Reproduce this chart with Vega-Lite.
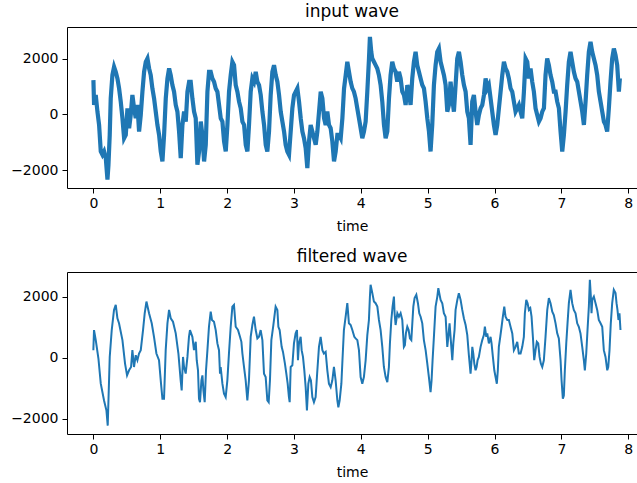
{
"$schema": "https://vega.github.io/schema/vega-lite/v6.json",
"padding": {"left": 10, "top": 3, "right": 0, "bottom": 0},
"background": "white",
"spacing": 15,
"config": {
  "view": {"stroke": null},
  "font": "DejaVu Sans",
  "axis": {"grid": false, "domainColor": "black", "domainWidth": 1, "tickColor": "black", "tickWidth": 1, "labelColor": "black", "titleColor": "black", "labelFont": "DejaVu Sans", "titleFont": "DejaVu Sans", "labelFontSize": 14, "titleFontSize": 14, "titleFontWeight": "normal", "tickSize": 5},
  "axisX": {"labelPadding": 3, "titlePadding": 9},
  "axisY": {"labelPadding": 4},
  "title": {"font": "DejaVu Sans", "fontSize": 17, "fontWeight": "normal", "color": "black", "offset": 6}
},
"datasets": {
"input": [
{"t":0.001,"v":1236},{"t":0.011,"v":341},{"t":0.036,"v":699},{"t":0.061,"v":102},{"t":0.086,"v":-375},{"t":0.111,"v":-1329},{"t":0.136,"v":-1449},{"t":0.161,"v":-1329},{"t":0.186,"v":-1568},{"t":0.211,"v":-2343},{"t":0.226,"v":-1807},{"t":0.245,"v":-733},{"t":0.26,"v":579},{"t":0.285,"v":1414},{"t":0.31,"v":1713},{"t":0.335,"v":1534},{"t":0.36,"v":1295},{"t":0.385,"v":937},{"t":0.41,"v":460},{"t":0.435,"v":-136},{"t":0.46,"v":-852},{"t":0.485,"v":-733},{"t":0.51,"v":222},{"t":0.535,"v":-494},{"t":0.559,"v":-17},{"t":0.584,"v":699},{"t":0.609,"v":222},{"t":0.634,"v":-136},{"t":0.659,"v":341},{"t":0.684,"v":-614},{"t":0.709,"v":-17},{"t":0.734,"v":818},{"t":0.759,"v":1534},{"t":0.784,"v":1892},{"t":0.809,"v":2011},{"t":0.834,"v":1653},{"t":0.858,"v":1414},{"t":0.883,"v":937},{"t":0.908,"v":579},{"t":0.933,"v":102},{"t":0.958,"v":-375},{"t":0.983,"v":-733},{"t":1.008,"v":-1329},{"t":1.033,"v":-1687},{"t":1.058,"v":-733},{"t":1.083,"v":579},{"t":1.108,"v":1295},{"t":1.133,"v":1653},{"t":1.157,"v":1414},{"t":1.182,"v":1057},{"t":1.207,"v":818},{"t":1.232,"v":341},{"t":1.257,"v":102},{"t":1.282,"v":-614},{"t":1.307,"v":-1568},{"t":1.332,"v":-375},{"t":1.357,"v":102},{"t":1.382,"v":-256},{"t":1.407,"v":818},{"t":1.432,"v":1176},{"t":1.456,"v":1176},{"t":1.481,"v":579},{"t":1.506,"v":102},{"t":1.531,"v":-136},{"t":1.556,"v":-1807},{"t":1.581,"v":-1329},{"t":1.606,"v":-256},{"t":1.631,"v":-733},{"t":1.656,"v":-1687},{"t":1.681,"v":-1091},{"t":1.706,"v":818},{"t":1.73,"v":1534},{"t":1.755,"v":1534},{"t":1.78,"v":1295},{"t":1.805,"v":1176},{"t":1.83,"v":937},{"t":1.855,"v":818},{"t":1.88,"v":341},{"t":1.905,"v":-136},{"t":1.93,"v":-256},{"t":1.955,"v":-972},{"t":1.98,"v":-1329},{"t":2.005,"v":-375},{"t":2.029,"v":818},{"t":2.054,"v":1414},{"t":2.079,"v":1892},{"t":2.104,"v":1772},{"t":2.129,"v":1057},{"t":2.154,"v":818},{"t":2.179,"v":460},{"t":2.204,"v":222},{"t":2.229,"v":-256},{"t":2.254,"v":-375},{"t":2.279,"v":-1091},{"t":2.304,"v":-1329},{"t":2.328,"v":-375},{"t":2.353,"v":818},{"t":2.378,"v":1295},{"t":2.403,"v":1176},{"t":2.428,"v":1534},{"t":2.453,"v":1176},{"t":2.478,"v":1057},{"t":2.503,"v":699},{"t":2.528,"v":102},{"t":2.553,"v":-375},{"t":2.578,"v":-1091},{"t":2.602,"v":-1329},{"t":2.627,"v":-614},{"t":2.652,"v":699},{"t":2.677,"v":1534},{"t":2.702,"v":1772},{"t":2.727,"v":1414},{"t":2.752,"v":1176},{"t":2.777,"v":699},{"t":2.802,"v":102},{"t":2.827,"v":-256},{"t":2.852,"v":-614},{"t":2.876,"v":-1091},{"t":2.901,"v":-1329},{"t":2.926,"v":-1449},{"t":2.951,"v":-614},{"t":2.976,"v":222},{"t":3.001,"v":699},{"t":3.026,"v":818},{"t":3.051,"v":937},{"t":3.076,"v":460},{"t":3.101,"v":-136},{"t":3.126,"v":-614},{"t":3.15,"v":-852},{"t":3.175,"v":-1210},{"t":3.2,"v":-1926},{"t":3.225,"v":-972},{"t":3.25,"v":-375},{"t":3.275,"v":-614},{"t":3.3,"v":-852},{"t":3.325,"v":-1091},{"t":3.35,"v":-614},{"t":3.375,"v":102},{"t":3.4,"v":818},{"t":3.425,"v":579},{"t":3.45,"v":-136},{"t":3.474,"v":-375},{"t":3.499,"v":102},{"t":3.524,"v":-375},{"t":3.549,"v":-494},{"t":3.574,"v":-972},{"t":3.599,"v":-1687},{"t":3.624,"v":-1329},{"t":3.649,"v":-733},{"t":3.674,"v":-733},{"t":3.699,"v":-852},{"t":3.724,"v":-136},{"t":3.749,"v":937},{"t":3.774,"v":1414},{"t":3.798,"v":1892},{"t":3.823,"v":1534},{"t":3.848,"v":1176},{"t":3.873,"v":937},{"t":3.897,"v":818},{"t":3.922,"v":579},{"t":3.947,"v":222},{"t":3.972,"v":-136},{"t":3.997,"v":-494},{"t":4.022,"v":-852},{"t":4.047,"v":-614},{"t":4.072,"v":-256},{"t":4.097,"v":818},{"t":4.122,"v":2011},{"t":4.136,"v":2787},{"t":4.156,"v":2250},{"t":4.171,"v":2011},{"t":4.196,"v":1892},{"t":4.221,"v":1772},{"t":4.246,"v":1653},{"t":4.271,"v":1414},{"t":4.296,"v":1057},{"t":4.321,"v":460},{"t":4.346,"v":-375},{"t":4.371,"v":-852},{"t":4.396,"v":-614},{"t":4.421,"v":579},{"t":4.445,"v":1414},{"t":4.47,"v":1892},{"t":4.495,"v":1653},{"t":4.52,"v":1534},{"t":4.545,"v":1176},{"t":4.57,"v":1534},{"t":4.595,"v":1295},{"t":4.62,"v":818},{"t":4.645,"v":699},{"t":4.67,"v":341},{"t":4.695,"v":1057},{"t":4.72,"v":818},{"t":4.744,"v":341},{"t":4.769,"v":1295},{"t":4.794,"v":1892},{"t":4.819,"v":2250},{"t":4.844,"v":1772},{"t":4.869,"v":1534},{"t":4.894,"v":1295},{"t":4.919,"v":1057},{"t":4.944,"v":937},{"t":4.969,"v":460},{"t":4.994,"v":-136},{"t":5.019,"v":-614},{"t":5.043,"v":-1329},{"t":5.068,"v":-375},{"t":5.093,"v":1057},{"t":5.118,"v":1772},{"t":5.143,"v":2250},{"t":5.168,"v":2369},{"t":5.193,"v":1892},{"t":5.218,"v":1653},{"t":5.243,"v":1414},{"t":5.268,"v":1057},{"t":5.293,"v":102},{"t":5.317,"v":341},{"t":5.342,"v":1176},{"t":5.367,"v":579},{"t":5.392,"v":102},{"t":5.417,"v":1057},{"t":5.442,"v":2011},{"t":5.467,"v":2250},{"t":5.492,"v":1892},{"t":5.517,"v":1414},{"t":5.542,"v":1057},{"t":5.567,"v":818},{"t":5.592,"v":102},{"t":5.616,"v":-136},{"t":5.641,"v":-1091},{"t":5.666,"v":460},{"t":5.691,"v":699},{"t":5.716,"v":102},{"t":5.741,"v":-375},{"t":5.766,"v":-17},{"t":5.791,"v":222},{"t":5.816,"v":341},{"t":5.841,"v":699},{"t":5.866,"v":1295},{"t":5.891,"v":937},{"t":5.915,"v":1057},{"t":5.94,"v":579},{"t":5.965,"v":102},{"t":5.99,"v":-375},{"t":6.015,"v":-733},{"t":6.04,"v":-375},{"t":6.065,"v":222},{"t":6.09,"v":818},{"t":6.115,"v":1414},{"t":6.14,"v":1892},{"t":6.165,"v":1653},{"t":6.19,"v":1534},{"t":6.214,"v":1295},{"t":6.239,"v":937},{"t":6.264,"v":818},{"t":6.289,"v":460},{"t":6.314,"v":102},{"t":6.339,"v":222},{"t":6.364,"v":341},{"t":6.389,"v":102},{"t":6.414,"v":-136},{"t":6.439,"v":818},{"t":6.464,"v":2011},{"t":6.489,"v":1892},{"t":6.513,"v":1295},{"t":6.538,"v":1653},{"t":6.563,"v":1176},{"t":6.588,"v":818},{"t":6.613,"v":222},{"t":6.638,"v":-17},{"t":6.663,"v":-256},{"t":6.688,"v":-136},{"t":6.713,"v":102},{"t":6.738,"v":222},{"t":6.762,"v":1414},{"t":6.787,"v":2011},{"t":6.812,"v":1772},{"t":6.837,"v":1414},{"t":6.862,"v":1176},{"t":6.887,"v":818},{"t":6.912,"v":818},{"t":6.937,"v":460},{"t":6.962,"v":222},{"t":6.987,"v":-614},{"t":7.012,"v":-1329},{"t":7.037,"v":-733},{"t":7.062,"v":102},{"t":7.086,"v":1057},{"t":7.111,"v":1892},{"t":7.136,"v":2250},{"t":7.161,"v":1892},{"t":7.186,"v":1534},{"t":7.211,"v":1295},{"t":7.236,"v":1176},{"t":7.261,"v":818},{"t":7.286,"v":460},{"t":7.311,"v":102},{"t":7.336,"v":-375},{"t":7.361,"v":460},{"t":7.385,"v":1414},{"t":7.41,"v":2250},{"t":7.435,"v":2608},{"t":7.46,"v":2250},{"t":7.485,"v":2011},{"t":7.51,"v":1772},{"t":7.535,"v":1414},{"t":7.56,"v":818},{"t":7.585,"v":460},{"t":7.61,"v":102},{"t":7.635,"v":-256},{"t":7.659,"v":-375},{"t":7.684,"v":-614},{"t":7.709,"v":222},{"t":7.734,"v":1176},{"t":7.759,"v":2011},{"t":7.784,"v":2369},{"t":7.809,"v":2130},{"t":7.834,"v":1772},{"t":7.859,"v":818},{"t":7.874,"v":1295}
],
"filtered": [
{"t":0.0,"v":247},{"t":0.01,"v":905},{"t":0.036,"v":576},{"t":0.076,"v":-26},{"t":0.111,"v":-849},{"t":0.16,"v":-1398},{"t":0.196,"v":-1727},{"t":0.215,"v":-2221},{"t":0.245,"v":26},{"t":0.275,"v":905},{"t":0.309,"v":1563},{"t":0.335,"v":1727},{"t":0.36,"v":1290},{"t":0.384,"v":1125},{"t":0.435,"v":576},{"t":0.474,"v":-191},{"t":0.504,"v":-576},{"t":0.534,"v":-411},{"t":0.564,"v":-303},{"t":0.584,"v":247},{"t":0.608,"v":-303},{"t":0.634,"v":82},{"t":0.659,"v":-82},{"t":0.683,"v":138},{"t":0.709,"v":247},{"t":0.743,"v":905},{"t":0.768,"v":1454},{"t":0.794,"v":1836},{"t":0.833,"v":1454},{"t":0.873,"v":1125},{"t":0.907,"v":684},{"t":0.943,"v":138},{"t":0.982,"v":-82},{"t":1.012,"v":-849},{"t":1.033,"v":-1342},{"t":1.057,"v":-1342},{"t":1.082,"v":247},{"t":1.108,"v":1125},{"t":1.132,"v":1563},{"t":1.157,"v":1290},{"t":1.191,"v":1178},{"t":1.232,"v":796},{"t":1.272,"v":138},{"t":1.306,"v":-740},{"t":1.321,"v":-1069},{"t":1.341,"v":26},{"t":1.356,"v":-303},{"t":1.381,"v":-520},{"t":1.407,"v":26},{"t":1.43,"v":684},{"t":1.445,"v":905},{"t":1.481,"v":684},{"t":1.505,"v":247},{"t":1.531,"v":520},{"t":1.546,"v":-82},{"t":1.565,"v":-411},{"t":1.58,"v":-1342},{"t":1.595,"v":-1454},{"t":1.616,"v":-740},{"t":1.631,"v":-576},{"t":1.646,"v":-1069},{"t":1.665,"v":-1454},{"t":1.685,"v":-411},{"t":1.706,"v":247},{"t":1.729,"v":1013},{"t":1.755,"v":1507},{"t":1.774,"v":1234},{"t":1.804,"v":1178},{"t":1.83,"v":905},{"t":1.855,"v":467},{"t":1.879,"v":247},{"t":1.894,"v":-520},{"t":1.904,"v":-303},{"t":1.93,"v":-849},{"t":1.954,"v":-1178},{"t":1.979,"v":-1290},{"t":2.004,"v":-740},{"t":2.028,"v":138},{"t":2.054,"v":1013},{"t":2.079,"v":1671},{"t":2.103,"v":1727},{"t":2.129,"v":1013},{"t":2.163,"v":905},{"t":2.193,"v":684},{"t":2.214,"v":520},{"t":2.229,"v":138},{"t":2.253,"v":-303},{"t":2.278,"v":-740},{"t":2.303,"v":-1398},{"t":2.327,"v":-740},{"t":2.353,"v":684},{"t":2.378,"v":1069},{"t":2.402,"v":1342},{"t":2.428,"v":905},{"t":2.453,"v":632},{"t":2.477,"v":684},{"t":2.502,"v":905},{"t":2.528,"v":576},{"t":2.552,"v":-520},{"t":2.577,"v":-632},{"t":2.602,"v":-1398},{"t":2.622,"v":-1454},{"t":2.641,"v":-740},{"t":2.662,"v":576},{"t":2.692,"v":1069},{"t":2.726,"v":1671},{"t":2.752,"v":1563},{"t":2.767,"v":1013},{"t":2.786,"v":905},{"t":2.816,"v":355},{"t":2.836,"v":191},{"t":2.865,"v":-191},{"t":2.886,"v":-520},{"t":2.906,"v":-849},{"t":2.925,"v":-1290},{"t":2.936,"v":-1454},{"t":2.951,"v":-303},{"t":2.976,"v":-247},{"t":3.0,"v":467},{"t":3.025,"v":796},{"t":3.045,"v":905},{"t":3.06,"v":-82},{"t":3.075,"v":467},{"t":3.1,"v":684},{"t":3.115,"v":247},{"t":3.135,"v":26},{"t":3.155,"v":-411},{"t":3.175,"v":-961},{"t":3.194,"v":-1727},{"t":3.215,"v":-849},{"t":3.235,"v":-632},{"t":3.254,"v":-740},{"t":3.275,"v":-1290},{"t":3.299,"v":-1454},{"t":3.324,"v":-1290},{"t":3.35,"v":-411},{"t":3.374,"v":355},{"t":3.399,"v":684},{"t":3.425,"v":247},{"t":3.448,"v":138},{"t":3.474,"v":191},{"t":3.499,"v":-411},{"t":3.523,"v":-849},{"t":3.549,"v":-961},{"t":3.574,"v":-740},{"t":3.598,"v":-303},{"t":3.623,"v":-740},{"t":3.649,"v":-1398},{"t":3.664,"v":-1619},{"t":3.683,"v":-1398},{"t":3.709,"v":-849},{"t":3.723,"v":-191},{"t":3.747,"v":905},{"t":3.773,"v":1342},{"t":3.798,"v":1783},{"t":3.822,"v":1125},{"t":3.848,"v":1069},{"t":3.873,"v":905},{"t":3.903,"v":684},{"t":3.922,"v":632},{"t":3.948,"v":576},{"t":3.972,"v":247},{"t":3.997,"v":-632},{"t":4.022,"v":-849},{"t":4.046,"v":-632},{"t":4.072,"v":-82},{"t":4.097,"v":740},{"t":4.121,"v":1234},{"t":4.136,"v":2000},{"t":4.146,"v":2385},{"t":4.172,"v":2112},{"t":4.196,"v":1836},{"t":4.221,"v":1783},{"t":4.247,"v":1671},{"t":4.271,"v":1234},{"t":4.296,"v":905},{"t":4.321,"v":355},{"t":4.345,"v":-303},{"t":4.371,"v":-632},{"t":4.396,"v":-796},{"t":4.42,"v":-303},{"t":4.435,"v":467},{"t":4.456,"v":1234},{"t":4.475,"v":1671},{"t":4.495,"v":2000},{"t":4.505,"v":1454},{"t":4.52,"v":1069},{"t":4.546,"v":1454},{"t":4.57,"v":1342},{"t":4.595,"v":1454},{"t":4.62,"v":1234},{"t":4.644,"v":355},{"t":4.659,"v":411},{"t":4.674,"v":796},{"t":4.695,"v":1013},{"t":4.715,"v":905},{"t":4.734,"v":632},{"t":4.755,"v":576},{"t":4.77,"v":1125},{"t":4.785,"v":1671},{"t":4.804,"v":1948},{"t":4.83,"v":2056},{"t":4.854,"v":1783},{"t":4.874,"v":1454},{"t":4.894,"v":1342},{"t":4.919,"v":1125},{"t":4.943,"v":576},{"t":4.969,"v":247},{"t":4.994,"v":-191},{"t":5.018,"v":-632},{"t":5.043,"v":-1125},{"t":5.058,"v":-740},{"t":5.073,"v":-82},{"t":5.093,"v":684},{"t":5.118,"v":1671},{"t":5.144,"v":2000},{"t":5.159,"v":2277},{"t":5.173,"v":2112},{"t":5.193,"v":1892},{"t":5.218,"v":1783},{"t":5.242,"v":1454},{"t":5.268,"v":1342},{"t":5.293,"v":355},{"t":5.308,"v":684},{"t":5.327,"v":1125},{"t":5.342,"v":684},{"t":5.368,"v":-82},{"t":5.383,"v":467},{"t":5.402,"v":905},{"t":5.417,"v":1563},{"t":5.443,"v":1892},{"t":5.466,"v":2112},{"t":5.492,"v":1892},{"t":5.517,"v":1563},{"t":5.541,"v":1290},{"t":5.567,"v":1069},{"t":5.592,"v":740},{"t":5.616,"v":82},{"t":5.641,"v":-520},{"t":5.656,"v":-82},{"t":5.667,"v":355},{"t":5.682,"v":138},{"t":5.697,"v":-191},{"t":5.716,"v":-411},{"t":5.731,"v":-303},{"t":5.746,"v":-82},{"t":5.765,"v":26},{"t":5.791,"v":355},{"t":5.816,"v":576},{"t":5.84,"v":740},{"t":5.855,"v":1013},{"t":5.876,"v":684},{"t":5.891,"v":796},{"t":5.915,"v":467},{"t":5.94,"v":684},{"t":5.955,"v":467},{"t":5.975,"v":26},{"t":5.996,"v":-411},{"t":6.015,"v":-632},{"t":6.034,"v":-849},{"t":6.049,"v":-411},{"t":6.064,"v":355},{"t":6.085,"v":684},{"t":6.105,"v":1013},{"t":6.124,"v":1342},{"t":6.145,"v":1671},{"t":6.164,"v":1342},{"t":6.19,"v":1234},{"t":6.214,"v":1234},{"t":6.239,"v":1013},{"t":6.265,"v":796},{"t":6.289,"v":247},{"t":6.314,"v":355},{"t":6.339,"v":520},{"t":6.363,"v":138},{"t":6.389,"v":138},{"t":6.414,"v":355},{"t":6.438,"v":684},{"t":6.453,"v":1454},{"t":6.474,"v":1892},{"t":6.494,"v":1783},{"t":6.513,"v":1563},{"t":6.534,"v":1619},{"t":6.553,"v":1342},{"t":6.573,"v":684},{"t":6.593,"v":-82},{"t":6.613,"v":247},{"t":6.632,"v":520},{"t":6.653,"v":467},{"t":6.673,"v":26},{"t":6.692,"v":-191},{"t":6.713,"v":-303},{"t":6.737,"v":-82},{"t":6.762,"v":684},{"t":6.788,"v":1563},{"t":6.812,"v":1948},{"t":6.837,"v":1783},{"t":6.863,"v":1507},{"t":6.886,"v":1398},{"t":6.912,"v":1125},{"t":6.937,"v":796},{"t":6.961,"v":632},{"t":6.987,"v":-82},{"t":7.002,"v":-740},{"t":7.021,"v":-1342},{"t":7.036,"v":-1234},{"t":7.051,"v":-411},{"t":7.072,"v":467},{"t":7.091,"v":1125},{"t":7.111,"v":1783},{"t":7.136,"v":2221},{"t":7.161,"v":1783},{"t":7.185,"v":1563},{"t":7.211,"v":1454},{"t":7.236,"v":1125},{"t":7.26,"v":1013},{"t":7.285,"v":796},{"t":7.311,"v":355},{"t":7.335,"v":-82},{"t":7.35,"v":-411},{"t":7.371,"v":138},{"t":7.39,"v":905},{"t":7.41,"v":1671},{"t":7.425,"v":2550},{"t":7.44,"v":2000},{"t":7.45,"v":1454},{"t":7.461,"v":1892},{"t":7.485,"v":2000},{"t":7.51,"v":1783},{"t":7.535,"v":1563},{"t":7.559,"v":1234},{"t":7.585,"v":1125},{"t":7.61,"v":1013},{"t":7.634,"v":247},{"t":7.659,"v":26},{"t":7.685,"v":-411},{"t":7.7,"v":-303},{"t":7.719,"v":247},{"t":7.738,"v":1125},{"t":7.759,"v":1783},{"t":7.783,"v":2221},{"t":7.809,"v":2112},{"t":7.824,"v":1783},{"t":7.838,"v":1563},{"t":7.853,"v":1234},{"t":7.868,"v":1454},{"t":7.883,"v":905}
]
},
"vconcat": [
{
  "title": "input wave",
  "width": 570,
  "height": 161,
  "data": {"name": "input"},
  "layer": [
    {"mark": {"type": "line", "color": "#1f77b4", "strokeWidth": 4.2, "strokeJoin": "miter", "clip": true},
     "encoding": {
       "x": {"field": "t", "type": "quantitative", "scale": {"domain": [-0.394, 8.13], "nice": false, "zero": false}, "axis": {"values": [0,1,2,3,4,5,6,7,8], "format": "d", "title": "time"}},
       "y": {"field": "v", "type": "quantitative", "scale": {"domain": [-2642, 3143], "nice": false, "zero": false}, "axis": {"values": [-2000, 0, 2000], "format": "d", "title": null}}
     }},
    {"mark": {"type": "rule", "opacity": 0},
     "encoding": {
       "x": {"datum": 0, "type": "quantitative", "axis": {"orient": "top", "labels": false, "ticks": false, "title": null}}
     }}
  ],
  "resolve": {"axis": {"x": "independent"}}
},
{
  "title": "filtered wave",
  "width": 570,
  "height": 162,
  "data": {"name": "filtered"},
  "layer": [
    {"mark": {"type": "line", "color": "#1f77b4", "strokeWidth": 2, "clip": true},
     "encoding": {
       "x": {"field": "t", "type": "quantitative", "scale": {"domain": [-0.394, 8.13], "nice": false, "zero": false}, "axis": {"values": [0,1,2,3,4,5,6,7,8], "format": "d", "title": "time"}},
       "y": {"field": "v", "type": "quantitative", "scale": {"domain": [-2494, 2803], "nice": false, "zero": false}, "axis": {"values": [-2000, 0, 2000], "format": "d", "title": null}}
     }},
    {"mark": {"type": "rule", "opacity": 0},
     "encoding": {
       "x": {"datum": 0, "type": "quantitative", "axis": {"orient": "top", "labels": false, "ticks": false, "title": null}}
     }}
  ],
  "resolve": {"axis": {"x": "independent"}}
}
]
}
